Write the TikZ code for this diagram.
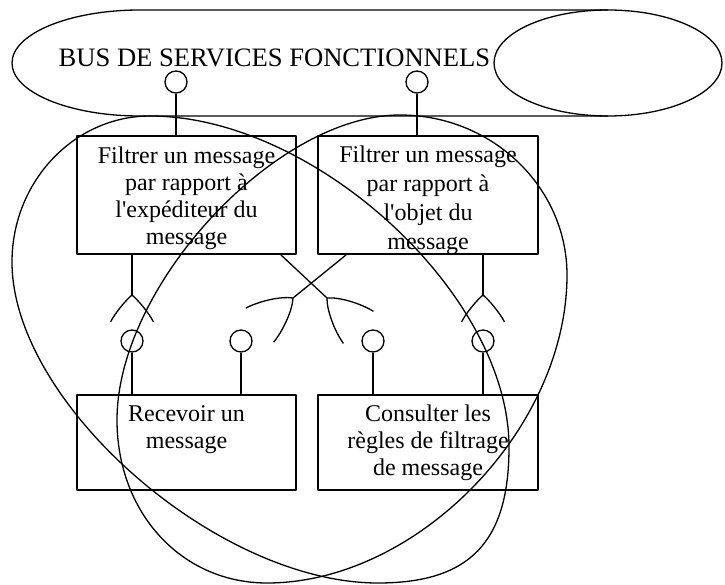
\documentclass[tikz,border=0pt]{standalone}
\usepackage{fontspec}
\setmainfont{Liberation Serif}[Ligatures=TeXOff]
\begin{document}
\begin{tikzpicture}[x=1pt,y=-1pt,
  line width=1.3pt, line join=round,
  box/.style={draw, line width=1.8pt, rectangle, inner sep=0pt},
  lolli/.style={draw, circle, minimum size=22pt, inner sep=0pt, line width=1.3pt},
  txt/.style={align=center, inner sep=0pt},
  bigloop/.style={line width=1.3pt},
  sockt/.pic={\draw (0,0) .. controls (-6,5) and (-17,18) .. (-21.5,27);
              \draw (0,0) .. controls (6,5) and (17,18) .. (21.5,27);},
  longsockt/.pic={\draw (0,0) .. controls (-9,8) and (-19,28) .. (-22,43);
                  \draw (0,0) .. controls (9,8) and (19,28) .. (22,43);}]
\useasboundingbox (0,0) rectangle (725,585);

% bus
\draw (608,10) -- (140,10) arc[start angle=90, end angle=270, x radius=128pt, y radius=53pt] -- (608,116);
\draw (608,63) ellipse [x radius=114pt, y radius=53pt];
\node[anchor=base west, inner sep=0pt, font=\fontsize{26.6}{30}\selectfont] (bus) at (58,67) {BUS DE SERVICES FONCTIONNELS};

% texts (anchor base = baseline of the last line)
\node[txt, anchor=base, font=\fontsize{24}{27.3}\selectfont] (t1) at (186.5,245) {Filtrer un message\\par rapport à\\l'expéditeur du\\message};
\node[txt, anchor=base, font=\fontsize{24}{29}\selectfont] (t2) at (428,250) {Filtrer un message\\par rapport à\\l'objet du\\message};
\node[txt, anchor=base, font=\fontsize{24}{27}\selectfont] (t3) at (186.5,448) {Recevoir un\\message};
\node[txt, anchor=base, font=\fontsize{24}{27}\selectfont] (t4) at (428,475) {Consulter les\\règles de filtrage\\de message};

% boxes
\node[box, minimum width=219pt, minimum height=118pt] (b1) at (186.5,195) {};
\node[box, minimum width=220pt, minimum height=118pt] (b2) at (428,195) {};
\node[box, minimum width=219pt, minimum height=95pt] (b3) at (186.5,442.5) {};
\node[box, minimum width=220pt, minimum height=95pt] (b4) at (428,442.5) {};

% provided interfaces
\node[lolli] (c1) at (176,82) {};
\node[lolli] (c2) at (417,82) {};
\node[lolli] (c3) at (132,341) {};
\node[lolli] (c4) at (241,341) {};
\node[lolli] (c5) at (373,341) {};
\node[lolli] (c6) at (483,341) {};
\draw (c1.south) -- (c1.south |- b1.north);
\draw (c2.south) -- (c2.south |- b2.north);
\draw (c3.south) -- (c3.south |- b3.north);
\draw (c4.south) -- (c4.south |- b3.north);
\draw (c5.south) -- (c5.south |- b4.north);
\draw (c6.south) -- (c6.south |- b4.north);

% required interfaces
\coordinate (s1) at (132,295);
\coordinate (s2) at (327,298);
\coordinate (s3) at (293,298);
\coordinate (s4) at (483,295);
\draw (b1.south -| s1) -- (s1);
\draw ([xshift=-16pt]b1.south east) -- (s2);
\draw ([xshift=29pt]b2.south west) -- (s3);
\draw (b2.south -| s4) -- (s4);
\pic at (s1) {sockt};
\pic at (s4) {sockt};
\pic[rotate=46.9] at (s2) {longsockt};
\pic[rotate=-50.8] at (s3) {longsockt};

% large loops
\draw[bigloop] (150,116) .. controls (315.1,116) and (509,294.7) .. (509,447)
  .. controls (509,542.2) and (469.7,583) .. (378,583)
  .. controls (217,583) and (12,403.2) .. (12,262)
  .. controls (12,181.7) and (74.1,116) .. cycle;
\draw[bigloop] (400,115) .. controls (491.9,115) and (567,187) .. (567,275)
  .. controls (567,429) and (417,583) .. (267,583)
  .. controls (181.5,583) and (117,512.9) .. (117,420)
  .. controls (117,285.8) and (275.5,115) .. cycle;
\end{tikzpicture}
\end{document}
